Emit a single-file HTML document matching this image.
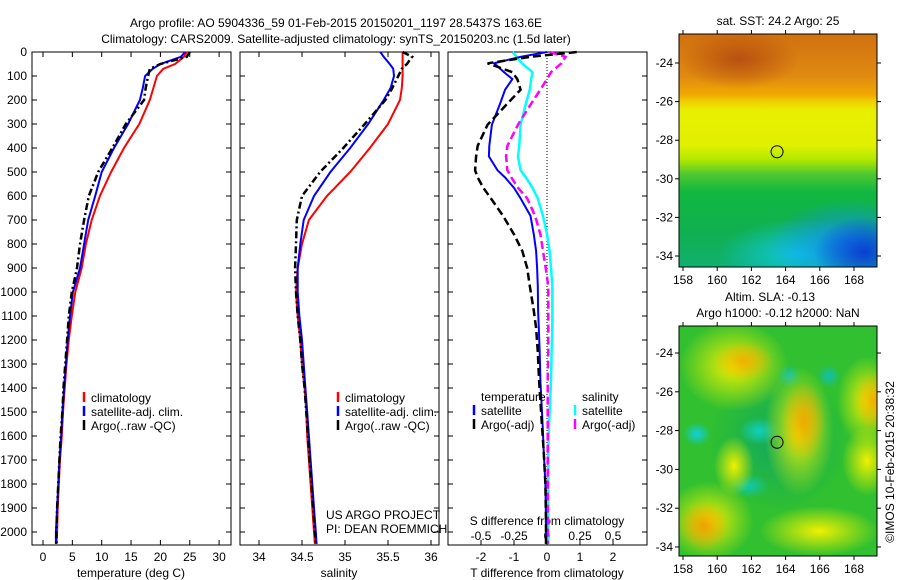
<!DOCTYPE html>
<html><head><meta charset="utf-8">
<style>
body{margin:0;background:#fff;}
#wrap{position:relative;width:900px;height:580px;overflow:hidden;font-family:"Liberation Sans",sans-serif;}
svg text{font-family:"Liberation Sans",sans-serif;font-size:12px;fill:#000;}
.map{position:absolute;left:679px;width:198px;}
</style></head>
<body>
<div id="wrap">
<div class="map" style="top:34px;height:233px;background:
radial-gradient(ellipse 50px 35px at 185px 218px,#0a40d0,rgba(10,80,230,0) 100%),
radial-gradient(ellipse 80px 45px at 170px 210px,#1090f0 0%,rgba(16,150,240,0) 100%),
radial-gradient(ellipse 80px 35px at 120px 220px,#10c8e0 0%,rgba(16,200,220,0) 100%),
radial-gradient(ellipse 60px 30px at 60px 25px,#b85010 0%,rgba(200,90,16,0) 100%),
linear-gradient(to bottom,#d07010 0%,#e08a10 18%,#f0a800 26%,#f0d000 29%,#e8f000 33%,#e0f000 48%,#b0e800 54%,#50c830 60%,#10b840 68%,#10b050 85%,#10b070 100%);"></div>
<div class="map" style="top:326px;height:230px;background:
radial-gradient(ellipse 30px 20px at 65px 35px,#f0b000,rgba(240,180,0,0) 100%),
radial-gradient(ellipse 55px 45px at 55px 40px,#f0f000,rgba(240,240,0,0) 100%),
radial-gradient(ellipse 22px 40px at 125px 95px,#f0a800,rgba(240,170,0,0) 100%),
radial-gradient(ellipse 35px 65px at 120px 105px,#f0f000,rgba(240,240,0,0) 100%),
radial-gradient(ellipse 25px 25px at 25px 200px,#f0a000,rgba(240,160,0,0) 100%),
radial-gradient(ellipse 45px 40px at 30px 195px,#f0f000,rgba(240,240,0,0) 100%),
radial-gradient(ellipse 20px 30px at 195px 75px,#f0b000,rgba(240,180,0,0) 100%),
radial-gradient(ellipse 30px 45px at 188px 75px,#f0f000,rgba(240,240,0,0) 100%),
radial-gradient(ellipse 25px 35px at 188px 135px,#f0f000,rgba(240,240,0,0) 100%),
radial-gradient(ellipse 20px 30px at 55px 140px,#f0f000,rgba(240,240,0,0) 100%),
radial-gradient(ellipse 60px 25px at 140px 205px,#f0f000,rgba(240,240,0,0) 100%),
radial-gradient(ellipse 14px 12px at 18px 108px,#10d0e0,rgba(16,200,220,0) 100%),
radial-gradient(ellipse 20px 14px at 80px 105px,#10d0c0,rgba(16,200,200,0) 100%),
radial-gradient(ellipse 20px 12px at 70px 160px,#10c8b0,rgba(16,200,180,0) 100%),
radial-gradient(ellipse 12px 12px at 110px 50px,#10c0b0,rgba(16,200,180,0) 100%),
radial-gradient(ellipse 12px 12px at 150px 50px,#10c0b0,rgba(16,200,180,0) 100%),
radial-gradient(ellipse 70px 70px at 100px 115px,#10a860,rgba(16,170,96,0) 100%),
#30c030;"></div>
<svg id="chart" width="900" height="580" style="position:absolute;left:0;top:0"></svg>
</div>
<script>
const depthT=[0,20,50,70,100,150,200,300,400,500,600,700,800,900,1000,1100,1200,1300,1400,1500,1600,1700,1800,1900,2000,2050];
const tempClim=[24.5,24,22.5,20.5,19.4,18.8,18.2,16.4,13.8,11.6,9.7,8.3,7.3,6.6,5.5,4.9,4.4,4.0,3.7,3.4,3.2,2.9,2.7,2.5,2.4,2.3];
const tempSat=[24.2,23.5,20,18.7,17.4,17,16.5,14.5,12.1,10,8.9,7.7,7,6.3,5.1,4.6,4.2,3.9,3.6,3.3,3.1,2.8,2.6,2.4,2.2,2.2];
const tempArgo=[25,24.5,20,18.2,17.9,17.5,17.2,14.1,11.8,9.4,7.8,7,6.3,5.8,4.9,4.4,4.1,3.8,3.5,3.3,3.0,2.8,2.6,2.4,2.3,2.3];
const salClim=[35.67,35.67,35.67,35.67,35.67,35.66,35.64,35.5,35.29,35.06,34.79,34.58,34.5,34.45,34.43,34.45,34.48,34.5,34.53,34.55,34.56,34.58,34.6,34.62,34.64,34.65];
const salSat=[35.41,35.45,35.52,35.56,35.57,35.53,35.45,35.27,35.06,34.83,34.64,34.52,34.48,34.45,34.45,34.47,34.5,34.52,34.54,34.56,34.58,34.6,34.62,34.64,34.66,34.67];
const salArgo=[35.67,35.78,35.72,35.66,35.62,35.55,35.47,35.23,34.98,34.71,34.5,34.44,34.43,34.42,34.43,34.45,34.48,34.5,34.53,34.55,34.57,34.59,34.61,34.63,34.65,34.66];
const depthD=[0,20,47,84,113,157,215,303,391,435,493,523,566,610,683,760,829,900,975,1078,1150,1250,1370,1560,1663,1800,1954,2050];
const tDiffSat=[0,-0.8,-1.6,-1.3,-1.05,-1.27,-1.42,-1.67,-1.75,-1.76,-1.5,-1.27,-1.0,-0.8,-0.5,-0.4,-0.33,-0.3,-0.28,-0.27,-0.25,-0.22,-0.2,-0.13,-0.1,-0.05,-0.03,-0.03];
const tDiffArgo=[0.9,-0.5,-1.8,-1.05,-0.9,-0.8,-1.2,-1.8,-2.1,-2.15,-2.18,-2.1,-1.93,-1.7,-1.33,-1.0,-0.75,-0.6,-0.52,-0.4,-0.33,-0.28,-0.24,-0.15,-0.1,-0.05,-0.03,-0.03];
const sDiffSat=[-0.26,-0.23,-0.19,-0.11,-0.12,-0.13,-0.16,-0.2,-0.21,-0.22,-0.2,-0.16,-0.11,-0.07,-0.03,0,0.02,0.03,0.04,0.04,0.04,0.035,0.03,0.015,0.01,0.01,0.01,0.01];
const sDiffArgo=[0.02,0.14,0.11,0.03,0,-0.05,-0.12,-0.22,-0.3,-0.31,-0.3,-0.27,-0.22,-0.15,-0.09,-0.05,-0.03,-0.01,0.01,0.01,0.01,0.01,0.005,0.005,0.005,0.005,0.005,0.005];
const depthTicks=[0,100,200,300,400,500,600,700,800,900,1000,1100,1200,1300,1400,1500,1600,1700,1800,1900,2000];
const tempTicks=[0,5,10,15,20,25,30];
const salTicks=[34,34.5,35,35.5,36];
const tdTicks=[-2,-1,0,1,2];
const sdTicks=[-0.5,-0.25,0,0.25,0.5];
const lonTicks=[158,160,162,164,166,168];
const latTicks=[-24,-26,-28,-30,-32,-34];
const argoLon=163.5, argoLat=-28.6;

const svg=document.getElementById('chart');
const NS='http://www.w3.org/2000/svg';
function el(tag,attrs,parent){const e=document.createElementNS(NS,tag);for(const k in attrs)e.setAttribute(k,attrs[k]);(parent||svg).appendChild(e);return e;}
function txt(x,y,s,anchor,parent){const t=el('text',{x:x,y:y,'text-anchor':anchor||'start'},parent);t.textContent=s;return t;}

const yD=d=>52+d*0.24;
const xT=t=>43+t*5.87;
const xS=s=>259+(s-34)*86;
const xTD=t=>547+t*33;
const xSD=s=>547+s*132;
const xLon=l=>683+(l-158)*17.1;
const yLat1=l=>63+(-24-l)*19.3;
const yLat2=l=>353+(-24-l)*19.4;

function box(x0,x1,y0,y1,name){const r=el('rect',{x:x0,y:y0,width:x1-x0,height:y1-y0,fill:'none',stroke:'#000','stroke-width':1});

}
function line(xs,ds,xf,color,w,dash,name){
  const pts=xs.map((v,i)=>xf(v).toFixed(1)+','+yD(ds[i]).toFixed(1)).join(' ');
  const p=el('polyline',{points:pts,fill:'none',stroke:color,'stroke-width':w});
  if(dash)p.setAttribute('stroke-dasharray',dash);
  
  
}

const t1=txt(336,27,'Argo profile: AO 5904336_59 01-Feb-2015 20150201_1197 28.5437S 163.6E','middle');


const t2=txt(336,43,'Climatology: CARS2009. Satellite-adjusted climatology: synTS_20150203.nc (1.5d later)','middle');



box(32,231,52,545,'temperature-panel');
box(240,439,52,545,'salinity-panel');
box(448,647,52,545,'difference-panel');

depthTicks.forEach(d=>{
  const y=yD(d);
  const lab=txt(27,y+4,String(d),'end');
  
  
  [[32,37],[226,231],[240,245],[434,439],[448,453],[642,647]].forEach(([a,b])=>el('line',{x1:a,x2:b,y1:y,y2:y,stroke:'#000'}));
});
tempTicks.forEach(t=>{const x=xT(t);el('line',{x1:x,x2:x,y1:52,y2:57,stroke:'#000'});el('line',{x1:x,x2:x,y1:540,y2:545,stroke:'#000'});
  const l=txt(x,561,String(t),'middle');
  
  });
salTicks.forEach(s=>{const x=xS(s);el('line',{x1:x,x2:x,y1:52,y2:57,stroke:'#000'});el('line',{x1:x,x2:x,y1:540,y2:545,stroke:'#000'});
  const l=txt(x,561,String(s),'middle');
  
  });
tdTicks.forEach(t=>{const x=xTD(t);el('line',{x1:x,x2:x,y1:540,y2:545,stroke:'#000'});
  const l=txt(x,561,String(t),'middle');
  
  });
sdTicks.forEach(s=>{const l=txt(xSD(s),540,String(s),'middle');
  
  });
let a=txt(131,577,'temperature (deg C)','middle');
a=txt(339,577,'salinity','middle');
a=txt(547,577,'T difference from climatology','middle');
a=txt(547,525,'S difference from climatology','middle');
a=txt(326,519,'US ARGO PROJECT');
a=txt(326,533,'PI: DEAN ROEMMICH');

el('line',{x1:547,x2:547,y1:52,y2:545,stroke:'#000','stroke-dasharray':'1,2'});

line(tempClim,depthT,xT,'#ff0000',2,null,'temp-climatology-line');
line(tempSat,depthT,xT,'#0000ff',2,null,'temp-satellite-line');
line(tempArgo,depthT,xT,'#000',2.5,'7,3,2,3','temp-argo-line');
line(salClim,depthT,xS,'#ff0000',2,null,'sal-climatology-line');
line(salSat,depthT,xS,'#0000ff',2,null,'sal-satellite-line');
line(salArgo,depthT,xS,'#000',2.5,'7,3,2,3','sal-argo-line');
line(sDiffSat,depthD,xSD,'#00ffff',2.5,null,'s-diff-satellite-line');
line(sDiffArgo,depthD,xSD,'#ff00ff',2.5,'8,4','s-diff-argo-line');
line(tDiffSat,depthD,xTD,'#0000ff',2,null,'t-diff-satellite-line');
line(tDiffArgo,depthD,xTD,'#000',2.5,'8,4','t-diff-argo-line');

function leg(x,y,color,label,name){
  el('line',{x1:x,x2:x,y1:y-10,y2:y,stroke:color,'stroke-width':2.5});
  const t=txt(x+7,y,label);
  
  
}
leg(84,402,'#ff0000','climatology','legend-climatology');
leg(84,416,'#0000ff','satellite-adj. clim.','legend-satellite-adj');
leg(84,430,'#000','Argo(..raw -QC)','legend-argo');
leg(338,402,'#ff0000','climatology','legend-climatology-2');
leg(338,416,'#0000ff','satellite-adj. clim.','legend-satellite-adj-2');
leg(338,430,'#000','Argo(..raw -QC)','legend-argo-2');
a=txt(481,401,'temperature');
a=txt(582,401,'salinity');
leg(474,415,'#0000ff','satellite','legend-t-satellite');
leg(474,429,'#000','Argo(-adj)','legend-t-argo');
leg(575,415,'#00ffff','satellite','legend-s-satellite');
leg(575,429,'#ff00ff','Argo(-adj)','legend-s-argo');

function mapAxes(y0,y1,yl,name){
  box(679,877,y0,y1,name);
  lonTicks.forEach(l=>{const x=xLon(l);el('line',{x1:x,x2:x,y1:y0-4,y2:y0,stroke:'#000'});el('line',{x1:x,x2:x,y1:y1,y2:y1+4,stroke:'#000'});
    const t=txt(x,y1+17,String(l),'middle');
    
    });
  latTicks.forEach(l=>{const y=yl(l);el('line',{x1:675,x2:679,y1:y,y2:y,stroke:'#000'});el('line',{x1:877,x2:881,y1:y,y2:y,stroke:'#000'});
    const t=txt(673,y+4,String(l),'end');
    
    });
  const c=el('circle',{cx:xLon(argoLon),cy:yl(argoLat),r:6,fill:'none',stroke:'#000','stroke-width':1});
  
  
}
mapAxes(34,267,yLat1,'sst-map-frame');
mapAxes(326,556,yLat2,'sla-map-frame');
a=txt(778,25,'sat. SST: 24.2 Argo: 25','middle');
a=txt(770,301,'Altim. SLA: -0.13','middle');
a=txt(778,317,'Argo h1000: -0.12 h2000: NaN','middle');
a=txt(0,0,'\u00A9IMOS 10-Feb-2015 20:38:32','middle');
a.setAttribute('transform','translate(894,462) rotate(-90)');


</script>
</body></html>
